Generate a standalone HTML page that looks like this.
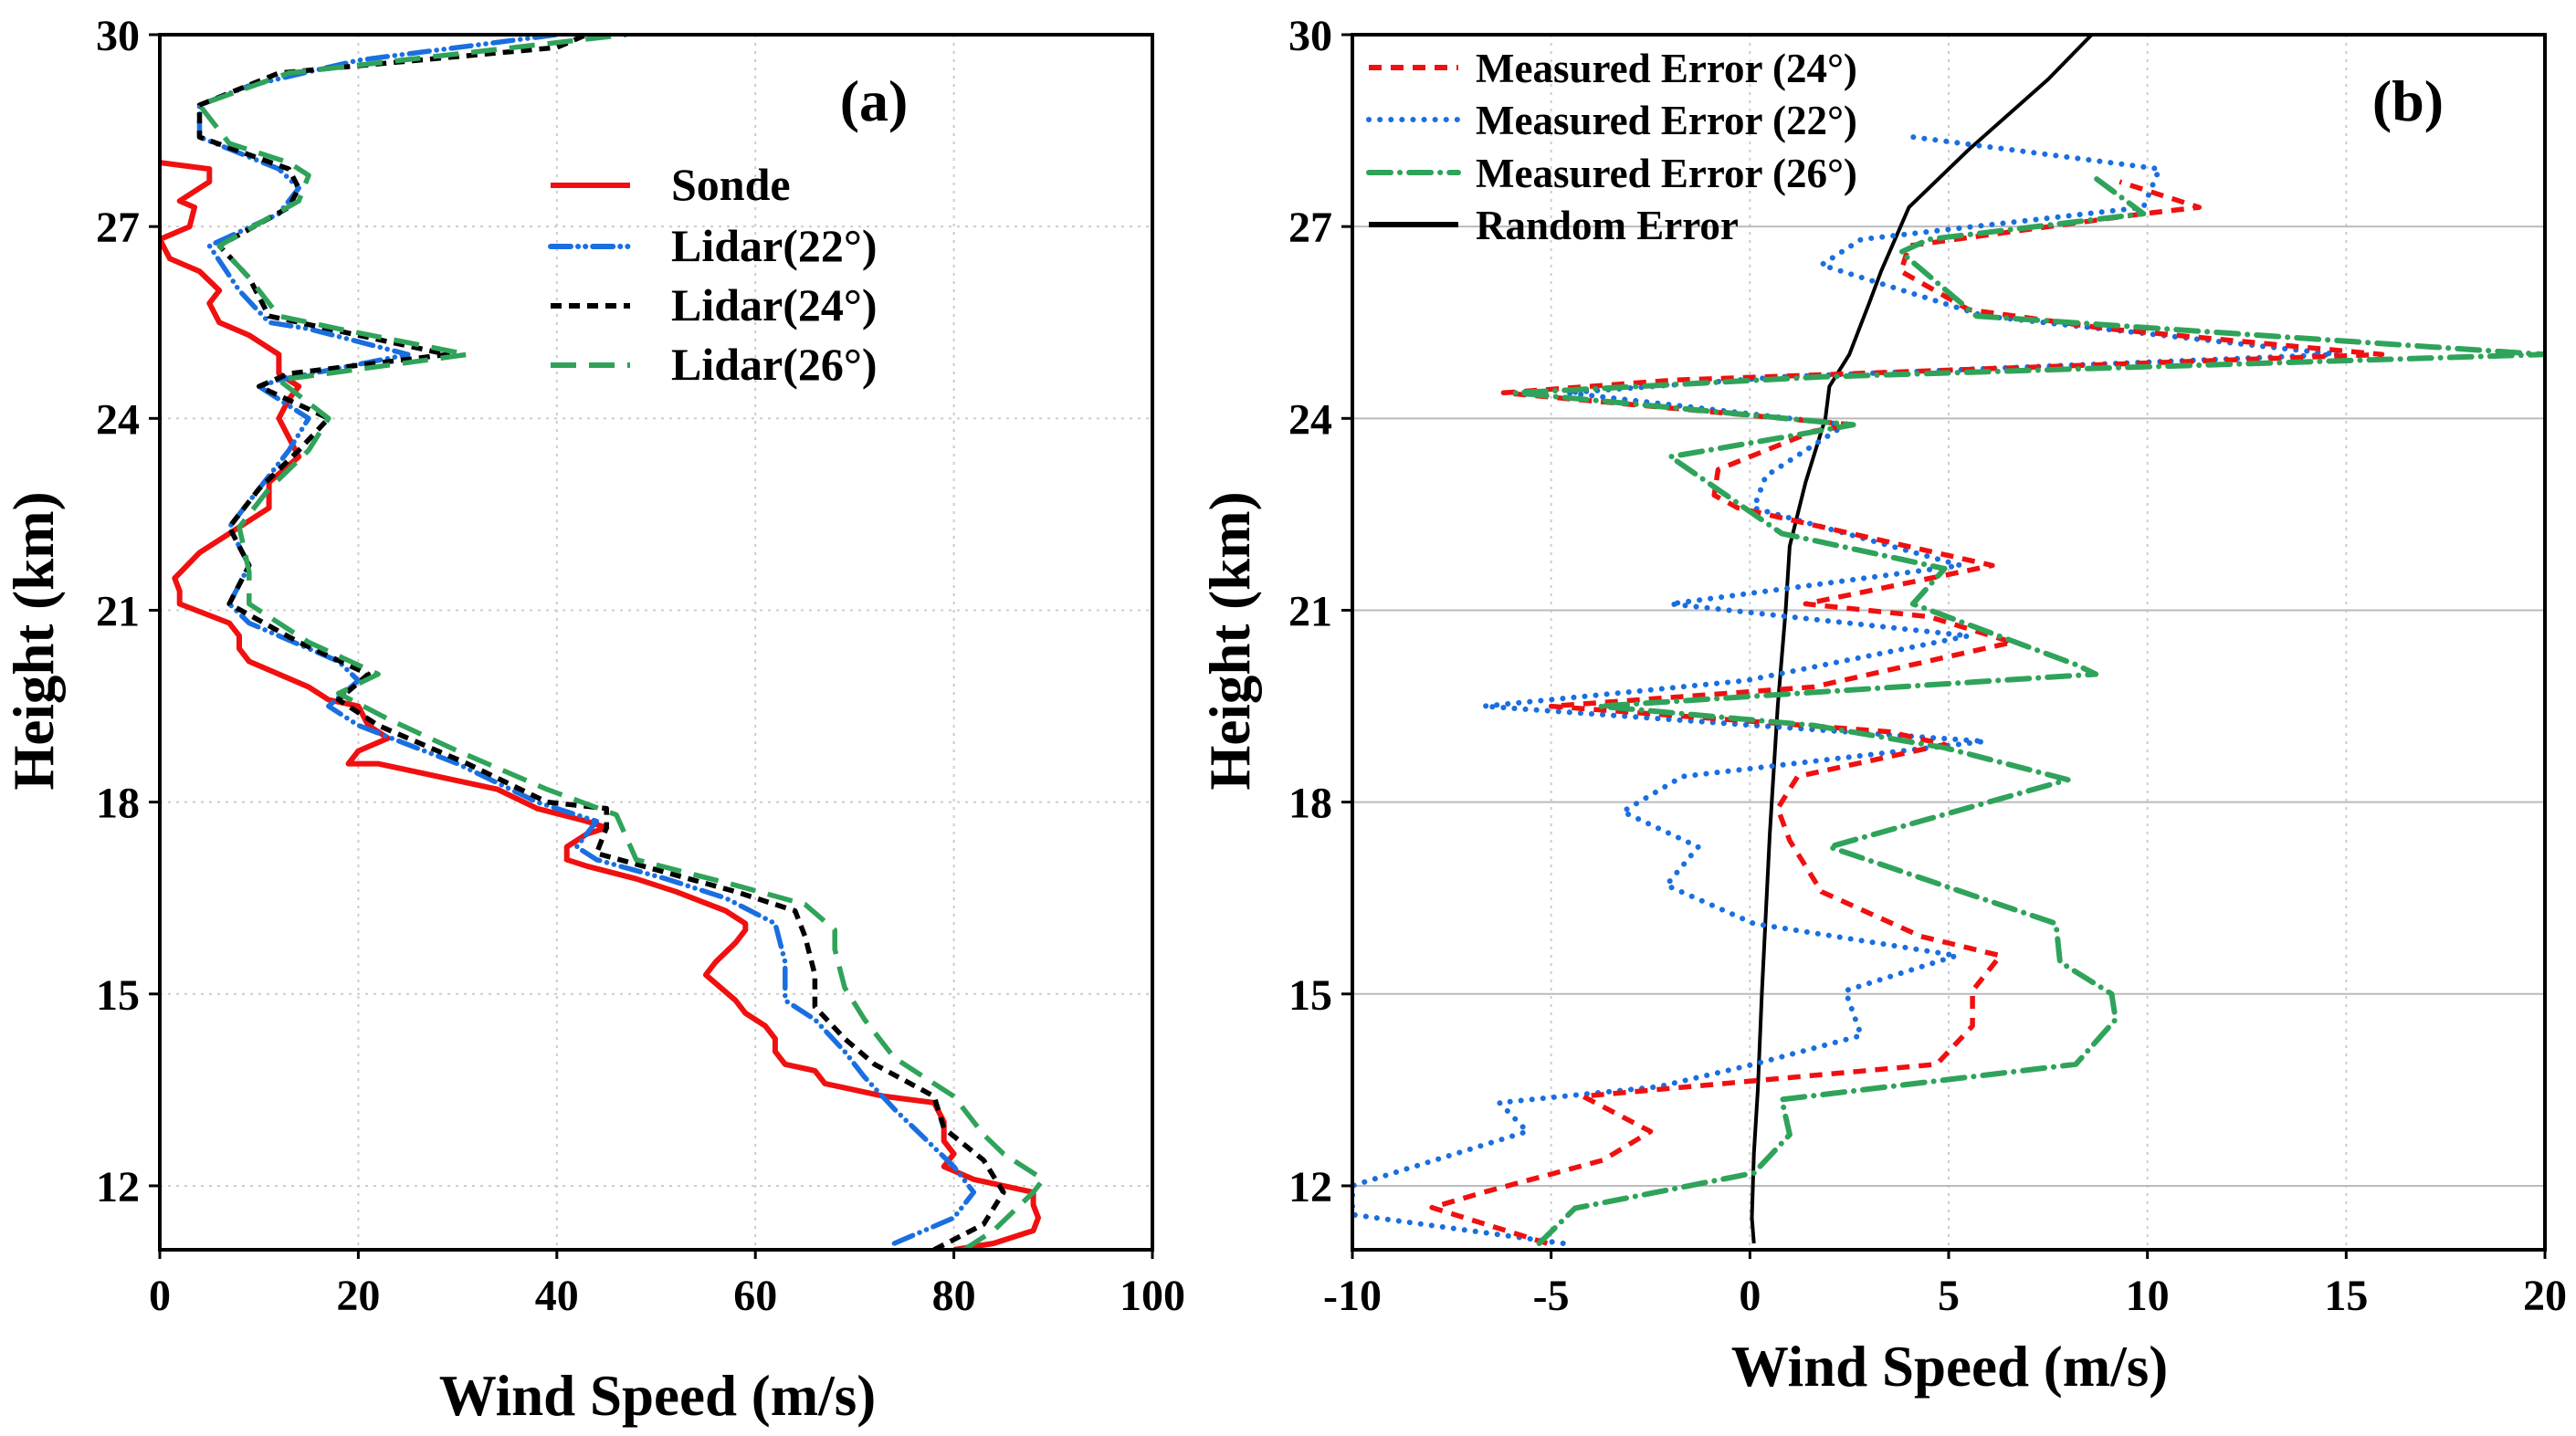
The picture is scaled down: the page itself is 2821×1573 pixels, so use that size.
<!DOCTYPE html>
<html><head><meta charset="utf-8"><style>
html,body{margin:0;padding:0;background:#fff;}
svg{display:block;font-family:"Liberation Serif",serif;font-weight:bold;}
</style></head><body>
<svg id="fig" width="2821" height="1573" viewBox="0 0 2821 1573"></svg>
<script>
// ---- Panel (a) data: [speed, height]
const sondeX=[80,84,88,88.5,88,88,85,82,79,80,79,79,78,73,67,66,63,62,62,61,59,58,55,56,58,59,59,57,52,48,43,41,41,43,45,43,38,34,28,22,19,20,23,21,20,17,15,12,9,8,8,7,2,2,1.5,4,8,11,11,14,13,12,13,14,12,12,9,6,5,6,4,1,0,3,3.5,2,5,5,0];
const sondeY=[11.0,11.1,11.3,11.5,11.7,11.9,12.0,12.1,12.3,12.5,12.7,13.0,13.3,13.4,13.6,13.8,13.9,14.1,14.3,14.5,14.7,14.9,15.3,15.5,15.8,16.0,16.1,16.3,16.6,16.8,17.0,17.1,17.3,17.5,17.6,17.7,17.9,18.2,18.4,18.6,18.6,18.8,19.0,19.2,19.5,19.6,19.8,20.0,20.2,20.4,20.6,20.8,21.1,21.3,21.5,21.9,22.3,22.6,23.0,23.4,23.7,24.0,24.3,24.5,24.7,25.0,25.3,25.5,25.8,26.0,26.3,26.5,26.8,27.0,27.3,27.4,27.7,27.9,28.0];
const l22X=[74,80,82,80,78,74,71,69,66,63,63,62,57,51,44,42,44,38,30,20,17,20,18,9,7,9,7,10,13,15,10,12,25,15,11,8,5,12,14,12,4,4,9,20,40];
const l22Y=[11.1,11.5,11.9,12.3,12.6,13.2,13.7,14.1,14.6,14.9,15.5,16.1,16.5,16.8,17.1,17.3,17.7,18.0,18.6,19.2,19.5,19.9,20.2,20.8,21.1,21.7,22.3,22.9,23.5,24.0,24.5,24.6,25.0,25.4,25.5,26.0,26.7,27.2,27.6,27.9,28.4,28.9,29.2,29.6,30.0];
const l24X=[78,83,85,83,79,78,72,69,66,66,65,64,58,51,44,45,45,39,31,22,18,21,14,7,9,7,10,14,17,10,13,29,17,11,9,6,13,14,13,4,4,12,40,43];
const l24Y=[11.0,11.4,11.9,12.4,12.9,13.4,13.9,14.3,14.8,15.3,15.9,16.3,16.6,16.9,17.2,17.6,17.9,18.0,18.6,19.2,19.6,20.0,20.5,21.1,21.7,22.3,22.9,23.5,24.0,24.5,24.7,25.0,25.4,25.6,26.2,26.7,27.3,27.6,27.9,28.4,28.9,29.4,29.8,30.0];
const l26X=[81,84,88,89,85,83,80,74,71,69,68,68,65,58,48,46,39,30,23,18,22,15,9,9,8,11,15,17,12,31,18,12,9,6,14,15,13,7,4,13,30,47];
const l26Y=[11.0,11.3,11.9,12.1,12.5,12.8,13.4,14.0,14.6,15.1,15.7,16.0,16.4,16.7,17.1,17.8,18.2,18.8,19.3,19.7,20.0,20.5,21.1,21.6,22.3,22.9,23.5,24.0,24.6,25.0,25.4,25.6,26.2,26.7,27.4,27.8,28.0,28.3,28.9,29.4,29.7,30.0];
// ---- Panel (b) data
const randX=[0.1,0.05,0.1,0.2,0.3,0.5,0.7,0.9,1.0,1.4,1.9,2.0,2.5,3.0,3.3,4.0,5.5,7.5,8.6];
const randY=[11.1,11.5,12.5,13.5,15,17.5,19.5,21.0,22.0,23.0,24.0,24.5,25.0,25.8,26.3,27.3,28.2,29.3,30.0];
const e24X=[-5.1,-8.0,-6.7,-3.7,-2.5,-4.2,4.7,5.6,5.6,6.3,4.3,1.8,1.0,0.7,1.2,4.9,3.5,-5.0,1.6,6.6,4.5,1.4,6.1,-0.3,-0.9,-0.8,1.6,2.6,-6.2,-1.9,15.9,9.0,5.5,3.8,4.0,9.9,11.3,9.3];
const e24Y=[11.1,11.66,11.9,12.4,12.85,13.4,13.9,14.5,15.05,15.6,15.9,16.6,17.4,17.9,18.4,18.9,19.1,19.5,19.8,20.5,20.9,21.1,21.7,22.6,22.8,23.2,23.8,23.9,24.4,24.6,25.0,25.4,25.7,26.3,26.7,27.2,27.3,27.7];
const e22X=[-4.7,-10,-10,-5.6,-6.3,-2.3,0.1,2.8,2.4,5.2,0.1,-2.1,-1.3,-3.2,-1.7,5.9,0.1,-6.7,-0.1,5.5,0.97,-2.0,5.3,0.1,0.4,2.4,-4.6,0.8,14.8,5.9,1.8,2.8,9.9,10.3,4.1];
const e22Y=[11.1,11.55,12.0,12.85,13.3,13.55,13.9,14.35,15.05,15.6,16.1,16.7,17.3,17.85,18.4,18.95,19.2,19.5,19.9,20.6,20.9,21.1,21.7,22.6,23.1,23.9,24.4,24.65,25.0,25.6,26.4,26.8,27.3,27.9,28.4];
const e26X=[-5.3,-4.4,0.1,1.0,0.8,8.2,9.2,9.1,7.8,7.7,2.0,8.0,4.9,1.6,-3.8,8.7,8.2,4.1,4.9,0.8,0.1,-2.0,0.8,2.6,-5.9,1.8,20,15.2,5.7,3.8,4.5,9.9,8.6];
const e26Y=[11.1,11.65,12.2,12.8,13.35,13.9,14.6,15.0,15.5,16.1,17.3,18.35,18.85,19.2,19.5,20.0,20.15,21.1,21.65,22.2,22.5,23.4,23.7,23.9,24.4,24.65,25.0,25.2,25.6,26.6,26.8,27.2,27.8];
const yTicks=[12,15,18,21,24,27,30];
const xTicksA=[0,20,40,60,80,100];
const xTicksB=[-10,-5,0,5,10,15,20];

const NS='http://www.w3.org/2000/svg';
const svg=document.getElementById('fig');
function mk(tag,attrs,parent,text){const e=document.createElementNS(NS,tag);for(const k in attrs)e.setAttribute(k,attrs[k]);if(text!==undefined)e.textContent=text;(parent||svg).appendChild(e);return e;}
const TOP=38,BOT=1369;
function yS(h){return TOP+(30-h)/(30-11)*(BOT-TOP);}

function panel(id,L,R,xmin,xmax,xt,solidH){
  const g=mk('g',{});
  
  
  const xS=v=>L+(v-xmin)/(xmax-xmin)*(R-L);
  xt.forEach(v=>{if(v===xmin||v===xmax)return;const l=mk('line',{x1:xS(v),x2:xS(v),y1:TOP,y2:BOT,stroke:'#ccc','stroke-width':2,'stroke-dasharray':'3,6'},g);
    });
  yTicks.forEach(v=>{if(v===30)return;const l=mk('line',{x1:L,x2:R,y1:yS(v),y2:yS(v),stroke:solidH?'#bbb':'#ccc','stroke-width':2,'stroke-dasharray':solidH?'none':'3,6'},g);
    });
  xt.forEach(v=>{mk('line',{x1:xS(v),x2:xS(v),y1:BOT,y2:BOT+10,stroke:'#000','stroke-width':3},g);
    const t=mk('text',{x:xS(v),y:BOT+66,'font-size':48,'text-anchor':'middle'},g,String(v));
    });
  yTicks.forEach(v=>{mk('line',{x1:L-12,x2:L,y1:yS(v),y2:yS(v),stroke:'#000','stroke-width':3},g);
    const t=mk('text',{x:L-22,y:yS(v)+17,'font-size':48,'text-anchor':'end'},g,String(v));
    });
  const clip=mk('clipPath',{id:'clip'+id},g);mk('rect',{x:L,y:TOP,width:R-L,height:BOT-TOP},clip);
  const sg=mk('g',{'clip-path':'url(#clip'+id+')'},g);
  return {g,sg,xS,L,R};
}
function series(p,xs,ys,color,dash,name,w){
  const d=xs.map((v,i)=>(i?'L':'M')+p.xS(v).toFixed(1)+','+yS(ys[i]).toFixed(1)).join(' ');
  const e=mk('path',{d:d,fill:'none',stroke:color,'stroke-width':w||5.5,'stroke-dasharray':dash,'stroke-linejoin':'round','stroke-linecap':dash.indexOf('0.1')>=0?'round':'butt'},p.sg);
  
  
}
function legend(x1,x2,tx,y,color,dash,label,name,fs){
  const l=mk('line',{x1:x1,x2:x2,y1:y,y2:y,stroke:color,'stroke-width':6,'stroke-dasharray':dash,'stroke-linecap':dash.indexOf('0.1')>=0?'round':'butt'});
  
  const t=mk('text',{x:tx,y:y+16,'font-size':fs},undefined,label);
  
}
const RED='#f01010',BLUE='#1a6fe0',GRN='#2fa35a';
const pa=panel('a',175,1262,0,100,xTicksA,false);
series(pa,sondeX,sondeY,RED,'none','sonde-line',6);
series(pa,l22X,l22Y,BLUE,'22,8,0.1,8,0.1,8','lidar22-line');
series(pa,l24X,l24Y,'#000','12,8','lidar24-line');
series(pa,l26X,l26Y,GRN,'28,14','lidar26-line');
mk('rect',{x:175,y:TOP,width:1087,height:BOT-TOP,fill:'none',stroke:'#000','stroke-width':4});
legend(603,690,735,203,RED,'none','Sonde','legend-sonde',50);
legend(603,690,735,270,BLUE,'22,8,0.1,8,0.1,8','Lidar(22°)','legend-lidar22',50);
legend(603,690,735,335,'#000','12,8','Lidar(24°)','legend-lidar24',50);
legend(603,690,735,400,GRN,'28,14','Lidar(26°)','legend-lidar26',50);
let t=mk('text',{x:957,y:132,'font-size':64,'text-anchor':'middle'},undefined,'(a)');

t=mk('text',{x:720,y:1550,'font-size':63,'text-anchor':'middle'},undefined,'Wind Speed (m/s)');

t=mk('text',{x:0,y:0,'font-size':63,'text-anchor':'middle',transform:'translate(58,702) rotate(-90)'},undefined,'Height (km)');

const pb=panel('b',1481,2787,-10,20,xTicksB,true);
series(pb,randX,randY,'#000','none','random-error-line',4);
series(pb,e22X,e22Y,BLUE,'0.1,12','error22-line',6);
series(pb,e24X,e24Y,RED,'14,10','error24-line');
series(pb,e26X,e26Y,GRN,'24,10,0.1,10','error26-line',6);
mk('rect',{x:1481,y:TOP,width:1306,height:BOT-TOP,fill:'none',stroke:'#000','stroke-width':4});
legend(1499,1597,1616,74,RED,'14,10','Measured Error (24°)','legend-error24',45);
legend(1499,1597,1616,131,BLUE,'0.1,12','Measured Error (22°)','legend-error22',45);
legend(1499,1597,1616,189,GRN,'24,10,0.1,10','Measured Error (26°)','legend-error26',45);
legend(1499,1597,1616,246,'#000','none','Random Error','legend-random',45);
t=mk('text',{x:2637,y:132,'font-size':64,'text-anchor':'middle'},undefined,'(b)');

t=mk('text',{x:2135,y:1518,'font-size':63,'text-anchor':'middle'},undefined,'Wind Speed (m/s)');

t=mk('text',{x:0,y:0,'font-size':63,'text-anchor':'middle',transform:'translate(1368,702) rotate(-90)'},undefined,'Height (km)');

</script>
</body></html>
